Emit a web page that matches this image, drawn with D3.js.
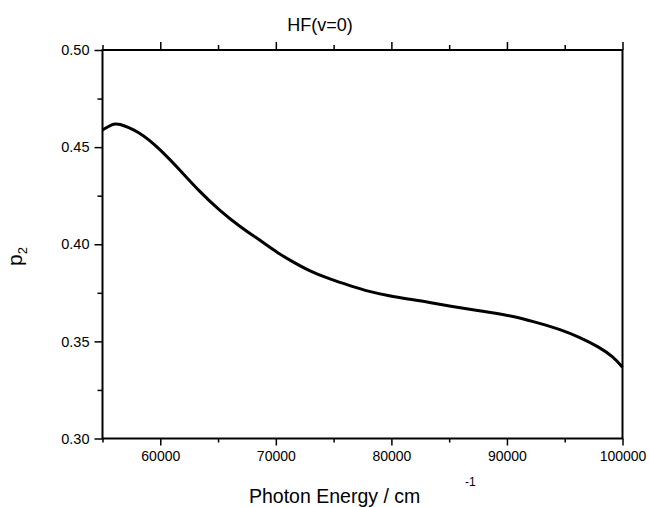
<!DOCTYPE html>
<html>
<head>
<meta charset="utf-8">
<script src="https://cdn.jsdelivr.net/npm/d3@7"></script>
<style>
  body { margin: 0; background: #fff; }
  svg { display: block; font-family: "Liberation Sans", Arial, sans-serif; }
  .axis path, .axis line { stroke: #000; }
  .axis text { fill: #000; }
</style>
</head>
<body>
<div id="chart"></div>
<script>
// ------------------------------------------------------------------
// Data
// ------------------------------------------------------------------
var energy = [55000, 55800, 56300, 58200, 59900, 61700, 63400, 65100, 66900, 68600,
              70300, 71200, 72900, 74700, 76400, 78100, 79800, 81600, 83300, 85000,
              87600, 89400, 91100, 92800, 94600, 96300, 98000, 99200, 100000];
var p2 = [0.4588, 0.4617, 0.4626, 0.4579, 0.4494, 0.4382, 0.4271, 0.4176, 0.4090, 0.4022,
          0.3950, 0.3919, 0.3862, 0.3820, 0.3787, 0.3756, 0.3734, 0.3717, 0.3701, 0.3682,
          0.3658, 0.3641, 0.3622, 0.3593, 0.3562, 0.3521, 0.3470, 0.3421, 0.3367];

var xMajor = [60000, 70000, 80000, 90000, 100000];
var xMinor = [55000, 65000, 75000, 85000, 95000];
var yMajor = [0.30, 0.35, 0.40, 0.45, 0.50];
var yMinor = [0.325, 0.375, 0.425, 0.475];

var title = "HF(v=0)";
var xTitle = "Photon Energy / cm";
var yTitle = "p";

// ------------------------------------------------------------------
// Layout
// ------------------------------------------------------------------
var W = 649, H = 507;
var margin = { top: 50, right: 26.5, bottom: 68.5, left: 102.5 };
var width = W - margin.left - margin.right,
    height = H - margin.top - margin.bottom;

var svg = d3.select("#chart").append("svg")
    .attr("width", W)
    .attr("height", H);

var g = svg.append("g")
    .attr("transform", "translate(" + margin.left + "," + margin.top + ")");

var x = d3.scaleLinear().domain([55000, 100000]).range([0, width]);
var y = d3.scaleLinear().domain([0.30, 0.50]).range([height, 0]);

// bottom axis: major with labels, minor without
g.append("g")
    .attr("class", "axis")
    .attr("transform", "translate(0," + height + ")")
    .call(d3.axisBottom(x).tickValues(xMajor).tickSize(7).tickPadding(6).tickFormat(d3.format("d")))
    .call(function(a) {
        a.select(".domain").remove();
        a.selectAll("line").attr("stroke-width", 1.5);
        a.selectAll("text").attr("font-size", 14);
    });
g.append("g")
    .attr("class", "axis")
    .attr("transform", "translate(0," + height + ")")
    .call(d3.axisBottom(x).tickValues(xMinor).tickSize(4).tickFormat(""))
    .call(function(a) {
        a.select(".domain").remove();
        a.selectAll("line").attr("stroke-width", 1.5);
    });

// top axis: ticks only
g.append("g")
    .attr("class", "axis")
    .call(d3.axisTop(x).tickValues(xMajor).tickSize(8).tickFormat(""))
    .call(function(a) {
        a.select(".domain").remove();
        a.selectAll("line").attr("stroke-width", 1.5);
    });
g.append("g")
    .attr("class", "axis")
    .call(d3.axisTop(x).tickValues(xMinor).tickSize(5).tickFormat(""))
    .call(function(a) {
        a.select(".domain").remove();
        a.selectAll("line").attr("stroke-width", 1.5);
    });

// left axis
g.append("g")
    .attr("class", "axis")
    .call(d3.axisLeft(y).tickValues(yMajor).tickSize(8).tickPadding(5).tickFormat(d3.format(".2f")))
    .call(function(a) {
        a.select(".domain").remove();
        a.selectAll("line").attr("stroke-width", 1.5);
        a.selectAll("text").attr("font-size", 14.5);
    });
g.append("g")
    .attr("class", "axis")
    .call(d3.axisLeft(y).tickValues(yMinor).tickSize(5).tickFormat(""))
    .call(function(a) {
        a.select(".domain").remove();
        a.selectAll("line").attr("stroke-width", 1.5);
    });

// frame
g.append("rect")
    .attr("x", 0).attr("y", 0)
    .attr("width", width).attr("height", height)
    .attr("fill", "none")
    .attr("stroke", "#000")
    .attr("stroke-width", 2);

// curve
var line = d3.line()
    .x(function(d, i) { return x(energy[i]); })
    .y(function(d) { return y(d); })
    .curve(d3.curveBasis);

g.append("path")
    .datum(p2)
    .attr("fill", "none")
    .attr("stroke", "#000")
    .attr("stroke-width", 3)
    .attr("stroke-linejoin", "round")
    .attr("d", line);

// titles
svg.append("text")
    .attr("x", 320)
    .attr("y", 31)
    .attr("text-anchor", "middle")
    .attr("font-size", 18)
    .text(title);

var xt = svg.append("text")
    .attr("x", 249)
    .attr("y", 503)
    .attr("font-size", 19.5);
xt.append("tspan").text(xTitle);
xt.append("tspan")
    .attr("x", 465)
    .attr("dy", -17)
    .attr("font-size", 12)
    .text("-1");

var yt = svg.append("text")
    .attr("transform", "translate(22,266) rotate(-90)")
    .attr("font-size", 21);
yt.append("tspan").text(yTitle);
yt.append("tspan")
    .attr("dy", 5)
    .attr("font-size", 13)
    .text("2");
</script>
</body>
</html>
